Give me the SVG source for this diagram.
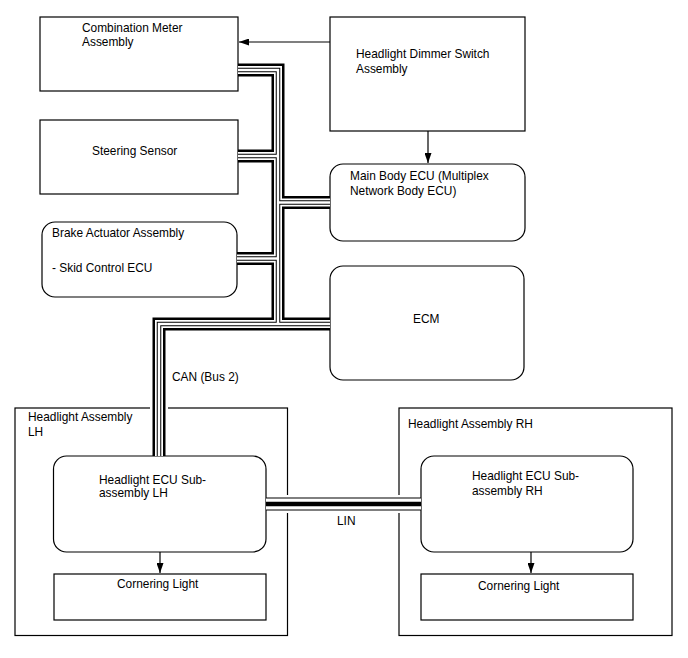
<svg xmlns="http://www.w3.org/2000/svg" width="688" height="658" viewBox="0 0 688 658">
<style>
  .box{fill:#fff;stroke:#000;stroke-width:1.2}
  .t{font-family:"Liberation Sans",Arial,sans-serif;font-size:11.9px;fill:#000}
  .arr{stroke:#000;stroke-width:1.2;fill:none}
  .bus{fill:none;stroke-linejoin:miter;stroke-linecap:butt}
</style>
<defs>
  <marker id="ah" markerWidth="10" markerHeight="7" refX="10" refY="3.5" orient="auto" markerUnits="userSpaceOnUse">
    <path d="M0,0 L10,3.5 L0,7 z" fill="#000"/>
  </marker>
  <path id="c1" d="M238,70 H278 V324"/>
  <path id="c2" d="M330,324 H159 V456"/>
  <path id="c3" d="M238,156 H278"/>
  <path id="c4" d="M237,258.5 H278"/>
  <path id="c5" d="M278,202.5 H330"/>
  <path id="lin" d="M266,504 H421"/>
</defs>
<rect width="688" height="658" fill="#fff"/>

<g id="combination-meter">
  <rect class="box" x="40" y="17" width="198" height="74"/>
  <text class="t" x="82" y="32">Combination Meter</text>
  <text class="t" x="82" y="46">Assembly</text>
</g>
<g id="dimmer-switch">
  <rect class="box" x="330" y="17" width="195" height="114"/>
  <text class="t" x="356" y="58">Headlight Dimmer Switch</text>
  <text class="t" x="356" y="73">Assembly</text>
</g>
<g id="steering-sensor">
  <rect class="box" x="40" y="120" width="198" height="74"/>
  <text class="t" x="92" y="155">Steering Sensor</text>
</g>
<g id="main-body-ecu">
  <rect class="box" x="330" y="164" width="195" height="77" rx="13"/>
  <text class="t" x="350" y="180">Main Body ECU (Multiplex</text>
  <text class="t" x="350" y="195">Network Body ECU)</text>
</g>
<g id="brake-actuator">
  <rect class="box" x="42" y="222" width="195" height="75" rx="13"/>
  <text class="t" x="52" y="237">Brake Actuator Assembly</text>
  <text class="t" x="52" y="272">- Skid Control ECU</text>
</g>
<g id="ecm">
  <rect class="box" x="330" y="266" width="194" height="114" rx="13"/>
  <text class="t" x="413" y="323">ECM</text>
</g>
<g id="headlight-assembly-lh">
  <rect class="box" x="15" y="408" width="272.5" height="227.5"/>
  <text class="t" x="28" y="421">Headlight Assembly</text>
  <text class="t" x="28" y="436">LH</text>
</g>
<g id="headlight-ecu-lh">
  <rect class="box" x="53.5" y="456" width="212.5" height="96" rx="13"/>
  <text class="t" x="99" y="484">Headlight ECU Sub-</text>
  <text class="t" x="99" y="497">assembly LH</text>
</g>
<g id="cornering-light-lh">
  <rect class="box" x="54" y="574" width="212" height="46"/>
  <text class="t" x="117" y="588">Cornering Light</text>
</g>
<g id="headlight-assembly-rh">
  <rect class="box" x="399" y="408" width="273" height="227.5"/>
  <text class="t" x="408" y="428">Headlight Assembly RH</text>
</g>
<g id="headlight-ecu-rh">
  <rect class="box" x="421" y="456" width="212" height="96" rx="13"/>
  <text class="t" x="472" y="480">Headlight ECU Sub-</text>
  <text class="t" x="472" y="495">assembly RH</text>
</g>
<g id="cornering-light-rh">
  <rect class="box" x="421" y="574" width="212" height="46"/>
  <text class="t" x="478" y="590">Cornering Light</text>
</g>

<g id="connectors">
  <line class="arr" x1="330" y1="42" x2="239" y2="42" marker-end="url(#ah)"/>
  <line class="arr" x1="428" y1="131" x2="428" y2="163" marker-end="url(#ah)"/>
  <line class="arr" x1="160" y1="552" x2="160" y2="573" marker-end="url(#ah)"/>
  <line class="arr" x1="531" y1="552" x2="531" y2="573" marker-end="url(#ah)"/>

  <g stroke="#fff" stroke-width="18" fill="none">
    <path d="M159,398 V418"/>
    <path d="M280,504 H295"/>
    <path d="M392,504 H407"/>
  </g>
  <g class="bus" stroke="#000" stroke-width="13">
    <use href="#c1"/><use href="#c2"/><use href="#c3"/><use href="#c4"/><use href="#c5"/>
  </g>
  <g class="bus" stroke="#fff" stroke-width="8">
    <use href="#c1"/><use href="#c2"/><use href="#c3"/><use href="#c4"/><use href="#c5"/>
  </g>
  <g class="bus" stroke="#000" stroke-width="4.5">
    <use href="#c1"/><use href="#c2"/><use href="#c3"/><use href="#c4"/><use href="#c5"/>
  </g>
  <g class="bus" stroke="#fff" stroke-width="2.5">
    <use href="#c1"/><use href="#c2"/><use href="#c3"/><use href="#c4"/><use href="#c5"/>
  </g>
  <g class="bus" stroke="#000" stroke-width="13"><use href="#lin"/></g>
  <g class="bus" stroke="#fff" stroke-width="11"><use href="#lin"/></g>
  <g class="bus" stroke="#000" stroke-width="4.5"><use href="#lin"/></g>

  <text class="t" x="172" y="381">CAN (Bus 2)</text>
  <text class="t" x="337" y="525">LIN</text>
</g>
</svg>
